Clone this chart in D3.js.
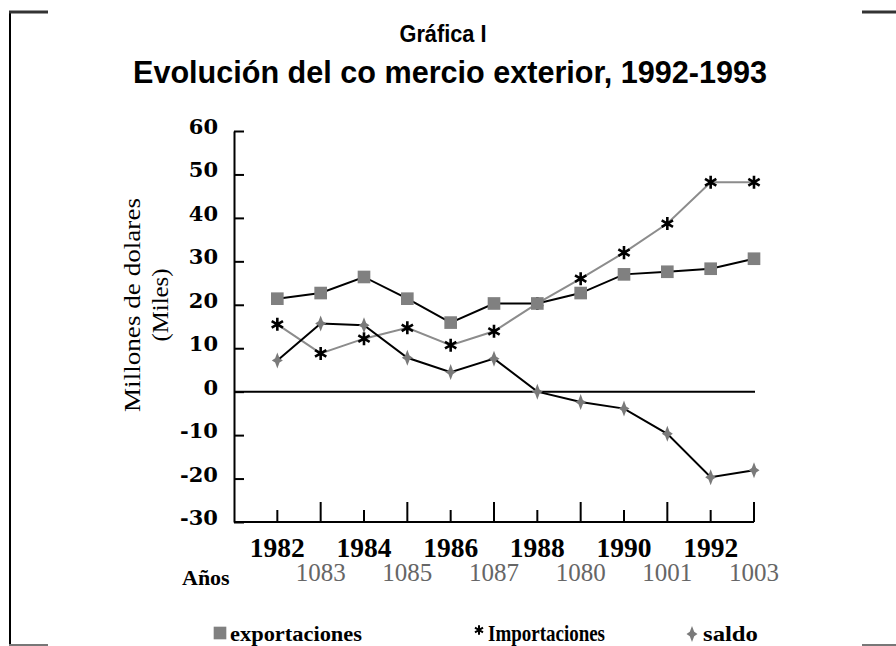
<!DOCTYPE html>
<html>
<head>
<meta charset="utf-8">
<script src="https://cdn.jsdelivr.net/npm/d3@7"></script>
<style>
  body { margin: 0; background: #fff; }
  svg { display: block; }
</style>
</head>
<body>
<div id="chart"></div>
<script>

// data
var years = [1982, 1983, 1984, 1985, 1986, 1987, 1988, 1989, 1990, 1991, 1992, 1993];
var exportaciones = [21.4, 22.7, 26.4, 21.4, 15.9, 20.3, 20.3, 22.7, 27.0, 27.6, 28.3, 30.6];
var importaciones = [15.5, 8.8, 12.2, 14.7, 10.7, 13.9, 20.3, 26.0, 32.0, 38.7, 48.2, 48.2];
var saldo = [7.2, 15.7, 15.3, 7.8, 4.5, 7.6, 0, -2.4, -3.9, -9.7, -19.7, -18.1];

var yTicks = [60, 50, 40, 30, 20, 10, 0, -10, -20, -30];
var evenYears = [1982, 1984, 1986, 1988, 1990, 1992];
var evenLabels = ["1982", "1984", "1986", "1988", "1990", "1992"];
var oddYears = [1983, 1985, 1987, 1989, 1991, 1993];
var oddLabels = ["1083", "1085", "1087", "1080", "1001", "1003"];

var W = 896, H = 646;

var svg = d3.select("#chart")
  .append("svg")
    .attr("width", W)
    .attr("height", H);

// frame corners
var frame = svg.append("g");
frame.append("line").attr("x1", 10).attr("x2", 10).attr("y1", 11).attr("y2", H)
  .attr("stroke", "#000").attr("stroke-width", 2);
[[9, 48, 12, "#333", 3], [862, 896, 12, "#333", 3], [9, 48, 645, "#777", 2], [862, 896, 645, "#777", 2]]
  .forEach(function(s) {
    frame.append("line").attr("x1", s[0]).attr("x2", s[1]).attr("y1", s[2]).attr("y2", s[2])
      .attr("stroke", s[3]).attr("stroke-width", s[4]);
  });

// titles
svg.append("text")
  .attr("x", 443).attr("y", 42)
  .attr("text-anchor", "middle")
  .attr("font-family", "Liberation Sans, Arial, sans-serif")
  .attr("font-weight", "bold")
  .attr("font-size", 23)
  .attr("textLength", 87).attr("lengthAdjust", "spacingAndGlyphs")
  .text("Gráfica I");

svg.append("text")
  .attr("x", 450).attr("y", 83)
  .attr("text-anchor", "middle")
  .attr("font-family", "Liberation Sans, Arial, sans-serif")
  .attr("font-weight", "bold")
  .attr("font-size", 32)
  .attr("textLength", 634).attr("lengthAdjust", "spacingAndGlyphs")
  .text("Evolución del co mercio exterior, 1992-1993");

// scales
var x = d3.scaleLinear()
  .domain([1981, 1993])
  .range([234, 754]);

var y = d3.scaleLinear()
  .domain([-30, 60])
  .range([522, 131]);

// Y axis (ticks pointing inside)
var yAxis = svg.append("g")
  .attr("transform", "translate(" + x(1981) + ",0)")
  .call(d3.axisRight(y).tickValues(yTicks).tickSize(10).tickSizeOuter(0).tickFormat(""));
yAxis.select(".domain").attr("stroke-width", 2);
yAxis.selectAll(".tick line").attr("stroke-width", 2);

svg.append("g").selectAll("text")
  .data(yTicks)
  .enter().append("text")
    .attr("x", 218)
    .attr("y", function(d) { return y(d) + 3 })
    .attr("text-anchor", "end")
    .attr("font-family", "DejaVu Serif, serif")
    .attr("font-weight", "bold")
    .attr("font-size", 21)
    .text(function(d) { return d });

// X axis: long ticks on odd years, short ones on even years
var xAxis = svg.append("g")
  .attr("transform", "translate(0," + y(-30) + ")");
xAxis.append("line")
  .attr("x1", x(1981)).attr("x2", x(1993))
  .attr("stroke", "#000").attr("stroke-width", 2);
xAxis.selectAll(".odd")
  .data(oddYears)
  .enter().append("line")
    .attr("x1", function(d) { return x(d) }).attr("x2", function(d) { return x(d) })
    .attr("y1", 0).attr("y2", -20)
    .attr("stroke", "#000").attr("stroke-width", 2);
xAxis.selectAll(".even")
  .data(evenYears)
  .enter().append("line")
    .attr("x1", function(d) { return x(d) }).attr("x2", function(d) { return x(d) })
    .attr("y1", 0).attr("y2", -12)
    .attr("stroke", "#000").attr("stroke-width", 2);

svg.append("g").selectAll("text")
  .data(evenYears)
  .enter().append("text")
    .attr("x", function(d) { return x(d) })
    .attr("y", 557)
    .attr("text-anchor", "middle")
    .attr("font-family", "Liberation Serif, serif")
    .attr("font-weight", "bold")
    .attr("font-size", 28)
    .attr("textLength", 55).attr("lengthAdjust", "spacingAndGlyphs")
    .text(function(d, i) { return evenLabels[i] });

svg.append("g").selectAll("text")
  .data(oddYears)
  .enter().append("text")
    .attr("x", function(d) { return x(d) })
    .attr("y", 581)
    .attr("text-anchor", "middle")
    .attr("font-family", "Liberation Serif, serif")
    .attr("font-size", 25)
    .attr("fill", "#666")
    .attr("textLength", 50).attr("lengthAdjust", "spacingAndGlyphs")
    .text(function(d, i) { return oddLabels[i] });

svg.append("text")
  .attr("x", 182).attr("y", 585)
  .attr("font-family", "Liberation Serif, serif")
  .attr("font-weight", "bold")
  .attr("font-size", 22)
  .text("Años");

// Y title
var yTitle = svg.append("g")
  .attr("transform", "translate(0,305) rotate(-90)");
yTitle.append("text")
  .attr("x", 0).attr("y", 140)
  .attr("text-anchor", "middle")
  .attr("font-family", "Liberation Serif, serif")
  .attr("font-size", 24)
  .attr("textLength", 214).attr("lengthAdjust", "spacingAndGlyphs")
  .text("Millones de dolares");
yTitle.append("text")
  .attr("x", 0).attr("y", 168)
  .attr("text-anchor", "middle")
  .attr("font-family", "Liberation Serif, serif")
  .attr("font-size", 24)
  .attr("textLength", 73).attr("lengthAdjust", "spacingAndGlyphs")
  .text("(Miles)");

// zero line
svg.append("line")
  .attr("x1", x(1981)).attr("x2", x(1993) + 1)
  .attr("y1", y(0)).attr("y2", y(0))
  .attr("stroke", "#000").attr("stroke-width", 2);

// markers
var squareSym = d3.symbol().type(d3.symbolSquare).size(160);
var starSym = d3.symbol().type(d3.symbolAsterisk).size(120);
var saldoPath = "M0,-8L2.2,-2.2L5.5,0L2.2,2.2L0,8L-2.2,2.2L-5.5,0L-2.2,-2.2Z";

function drawLine(values, color) {
  svg.append("path")
    .datum(values)
    .attr("fill", "none")
    .attr("stroke", color)
    .attr("stroke-width", 2)
    .attr("d", d3.line()
      .x(function(d, i) { return x(years[i]) })
      .y(function(d) { return y(d) })
      );
}

drawLine(importaciones, "#8c8c8c");
drawLine(exportaciones, "#000");
drawLine(saldo, "#000");

// asterisks first, so the squares sit on top where they meet
svg.append("g").selectAll("path")
  .data(importaciones)
  .enter().append("path")
    .attr("transform", function(d, i) { return "translate(" + x(years[i]) + "," + y(d) + ")" })
    .attr("d", starSym)
    .attr("fill", "none")
    .attr("stroke", "#000")
    .attr("stroke-width", 2.6);

svg.append("g").selectAll("path")
  .data(exportaciones)
  .enter().append("path")
    .attr("transform", function(d, i) { return "translate(" + x(years[i]) + "," + y(d) + ")" })
    .attr("d", squareSym)
    .attr("fill", "#808080");

svg.append("g").selectAll("path")
  .data(saldo)
  .enter().append("path")
    .attr("transform", function(d, i) { return "translate(" + x(years[i]) + "," + y(d) + ")" })
    .attr("d", saldoPath)
    .attr("fill", "#7a7a7a");

// legend
var legend = svg.append("g");
legend.append("path")
  .attr("transform", "translate(220,633)")
  .attr("d", squareSym)
  .attr("fill", "#808080");
legend.append("text")
  .attr("x", 230).attr("y", 641)
  .attr("font-family", "Liberation Serif, serif")
  .attr("font-weight", "bold")
  .attr("font-size", 22)
  .attr("textLength", 132).attr("lengthAdjust", "spacingAndGlyphs")
  .text("exportaciones");
legend.append("path")
  .attr("transform", "translate(479,630)")
  .attr("d", d3.symbol().type(d3.symbolAsterisk).size(60))
  .attr("fill", "none")
  .attr("stroke", "#000")
  .attr("stroke-width", 2);
legend.append("text")
  .attr("x", 488).attr("y", 641)
  .attr("font-family", "Liberation Serif, serif")
  .attr("font-weight", "bold")
  .attr("font-size", 24)
  .attr("textLength", 117).attr("lengthAdjust", "spacingAndGlyphs")
  .text("Importaciones");
legend.append("path")
  .attr("transform", "translate(692,634)")
  .attr("d", saldoPath)
  .attr("fill", "#7a7a7a");
legend.append("text")
  .attr("x", 703).attr("y", 641)
  .attr("font-family", "Liberation Serif, serif")
  .attr("font-weight", "bold")
  .attr("font-size", 22)
  .attr("textLength", 55).attr("lengthAdjust", "spacingAndGlyphs")
  .text("saldo");

</script>
</body>
</html>
